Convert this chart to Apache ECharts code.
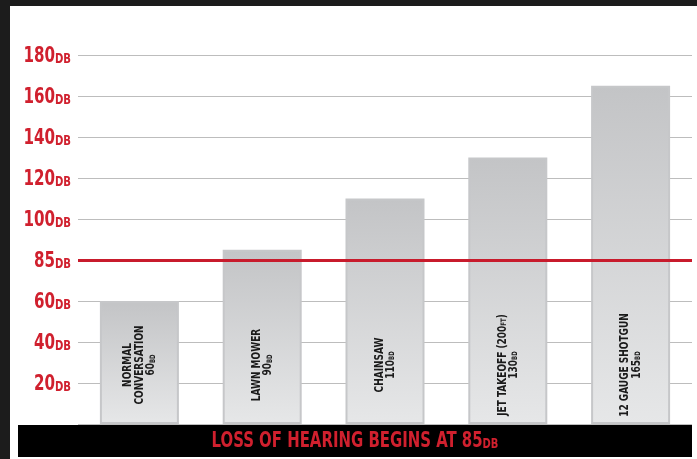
<!DOCTYPE html>
<html><head><meta charset="utf-8">
<script src="https://cdn.jsdelivr.net/npm/echarts@6/dist/echarts.min.js"></script>
<style>html,body{margin:0;padding:0;background:#1c1c1c;}#c{width:697px;height:459px;}</style>
</head><body><div id="c"></div>
<script>
// ---- data ----
var categories = ['NORMAL\nCONVERSATION', 'LAWN MOWER', 'CHAINSAW', 'JET TAKEOFF (200FT)', '12 GAUGE SHOTGUN'];
var barValues = [60, 85, 110, 130, 165];          // bar heights as drawn
var printedDb = ['60', '90', '110', '130', '165']; // values printed in the bars
var tickValues = [20, 40, 60, 80, 100, 120, 140, 160, 180];
var tickLabels = ['20', '40', '60', '85', '100', '120', '140', '160', '180'];
var thresholdAt = 80;   // red line position on the scale (labelled 85DB)
var footerMain = 'LOSS OF HEARING BEGINS AT 85';
var footerUnit = 'DB';

var FONT = '"DejaVu Sans Condensed","Liberation Sans Narrow",sans-serif';
var RED = '#d0202e';

var chart = echarts.init(document.getElementById('c'), null, {renderer: 'canvas'});

chart.setOption({
  backgroundColor: '#1c1c1c',
  animation: false,
  grid: {left: 78, right: 5, top: 55, bottom: 35, containLabel: false},
  xAxis: {
    type: 'category',
    data: categories,
    axisLine: {show: false}, axisTick: {show: false}, axisLabel: {show: false},
    splitLine: {show: false}
  },
  yAxis: {
    type: 'value', min: 0, max: 180, interval: 20,
    axisLine: {show: false}, axisTick: {show: false},
    splitLine: {show: true, lineStyle: {color: '#bdbdbd', width: 1}},
    axisLabel: {show: false}
  },
  series: [{
    type: 'bar',
    data: barValues,
    barWidth: 79,
    itemStyle: {
      color: new echarts.graphic.LinearGradient(0, 0, 0, 1, [
        {offset: 0, color: '#c3c4c6'}, {offset: 1, color: '#e6e7e8'}
      ]),
      borderColor: '#c6c7c9', borderWidth: 2
    },
    markLine: {
      silent: true, symbol: 'none',
      label: {show: false},
      lineStyle: {color: '#c81b2c', width: 3, type: 'solid'},
      data: [{yAxis: thresholdAt}]
    }
  }]
});

// ---- texts placed through the chart's own scales ----
var y0 = chart.convertToPixel({yAxisIndex: 0}, 0);
var g = [
  {type: 'rect', left: 10, top: 6, shape: {width: 687, height: 453}, style: {fill: '#ffffff'}, z: -10, silent: true},
  {type: 'rect', left: 18, top: y0 + 1, shape: {width: 674, height: 32}, style: {fill: '#000000'}, z: 100, silent: true},
  {type: 'text', x: 355, y: y0 + 17, z: 101, scaleX: 0.79,
    style: {
      text: '{m|' + footerMain + '}{u|' + footerUnit + '}',
      align: 'center', verticalAlign: 'middle',
      rich: {
        m: {fontFamily: FONT, fontWeight: 'bold', fontSize: 21, fill: RED, lineHeight: 22, verticalAlign: 'bottom'},
        u: {fontFamily: FONT, fontWeight: 'bold', fontSize: 14, fill: RED, lineHeight: 22, verticalAlign: 'bottom', padding: [0, 0, 1, 0]}
      }
    }
  }
];

tickValues.forEach(function (v, i) {
  g.push({type: 'text', x: 71, y: chart.convertToPixel({yAxisIndex: 0}, v) + 1, z: 50, scaleX: 0.8,
    style: {
      text: '{n|' + tickLabels[i] + '}{u|DB}',
      align: 'right', verticalAlign: 'middle',
      rich: {
        n: {fontFamily: FONT, fontWeight: 'bold', fontSize: 21, fill: RED, lineHeight: 22, verticalAlign: 'bottom'},
        u: {fontFamily: FONT, fontWeight: 'bold', fontSize: 14, fill: RED, lineHeight: 22, verticalAlign: 'bottom', padding: [0, 0, 1, 0]}
      }
    }
  });
});

function richLine(l) {
  return '{a|' + l.replace(/(\d)FT/g, '$1}{s|FT}{a|') + '}';
}
categories.forEach(function (c, i) {
  var lines = c.split('\n').map(richLine);
  lines.push('{a|' + printedDb[i] + '}{s|BD}');
  var cx = chart.convertToPixel({xAxisIndex: 0}, i);
  g.push({type: 'text', x: cx + 1, y: y0 - 59, z: 60, rotation: Math.PI / 2, scaleX: 0.8,
    style: {
      text: lines.join('\n'),
      align: 'center', verticalAlign: 'middle',
      rich: {
        a: {fontFamily: FONT, fontWeight: 'bold', fontSize: 12.5, fill: '#1a1a1a', lineHeight: 11.5, verticalAlign: 'bottom'},
        s: {fontFamily: FONT, fontWeight: 'bold', fontSize: 7.5, fill: '#1a1a1a', lineHeight: 11.5, verticalAlign: 'bottom', padding: [0, 0, 1, 0]}
      }
    }
  });
});

chart.setOption({graphic: g});
</script>
</body></html>
